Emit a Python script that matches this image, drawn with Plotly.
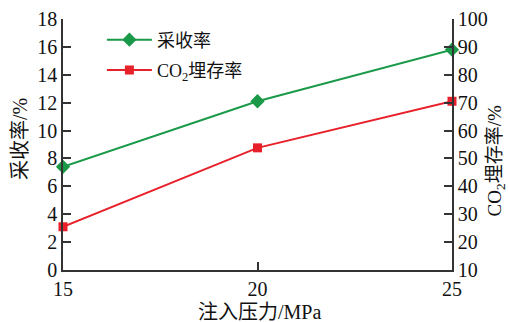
import plotly.graph_objects as go

pressure = [15, 20, 25]
recovery = [7.4, 12.1, 15.8]
co2_storage = [25.5, 53.8, 70.5]

x_ticks = [15, 20, 25]

x_title = "注入压力/MPa"
y_title = "采收率/%"
y2_title = "CO<sub>2</sub>埋存率/%"

FONT = "Liberation Serif, Times New Roman, Noto Sans CJK SC, serif"
AXIS = "#333333"

fig = go.Figure()
fig.add_trace(go.Scatter(
    x=pressure, y=recovery, name="采收率", mode="lines+markers",
    line=dict(color="#1a9a48", width=2),
    marker=dict(symbol="diamond", size=11, color="#1a9a48"),
    cliponaxis=False, yaxis="y", legendgroup="rec",
))
fig.add_trace(go.Scatter(
    x=pressure, y=co2_storage, name="CO<sub>2</sub>埋存率", mode="lines+markers",
    line=dict(color="#e8202a", width=2),
    marker=dict(symbol="square", size=9, color="#e8202a"),
    cliponaxis=False, yaxis="y2", legendgroup="co2",
))

axis_common = dict(
    ticks="inside", ticklen=8, tickcolor=AXIS, tickwidth=1.5,
    showline=True, linecolor=AXIS, linewidth=1.5,
    showgrid=False, zeroline=False, automargin=False,
    tickfont=dict(size=20),
)

fig.update_layout(
    width=508, height=322,
    margin=dict(l=63, r=56, t=19, b=52),
    paper_bgcolor="white", plot_bgcolor="white",
    font=dict(family=FONT, size=18, color="#111111"),
    showlegend=True,
    legend=dict(x=0.1, y=0.99, xanchor="left", yanchor="top",
                bgcolor="rgba(0,0,0,0)", font=dict(size=18),
                itemwidth=45, tracegroupgap=4),
    xaxis=dict(range=[15, 25], tickvals=x_ticks, **axis_common),
    yaxis=dict(range=[0, 18], dtick=2, **axis_common),
    yaxis2=dict(range=[10, 100], dtick=10, overlaying="y", side="right",
                **axis_common),
)

# axis titles placed as paper-referenced annotations
title_font = dict(family=FONT, size=20, color="#111111")
fig.add_annotation(text=x_title, xref="paper", yref="paper",
                   x=0.504, y=-0.167, showarrow=False, font=title_font,
                   xanchor="center", yanchor="middle")
fig.add_annotation(text=y_title, xref="paper", yref="paper",
                   x=-0.1105, y=0.522, showarrow=False, font=title_font,
                   textangle=-90, xanchor="center", yanchor="middle")
fig.add_annotation(text=y2_title, xref="paper", yref="paper",
                   x=1.114, y=0.434, showarrow=False,
                   font=dict(family=FONT, size=19, color="#111111"),
                   textangle=-90, xanchor="center", yanchor="middle",
                   borderpad=0)

fig.write_html("out.html")
